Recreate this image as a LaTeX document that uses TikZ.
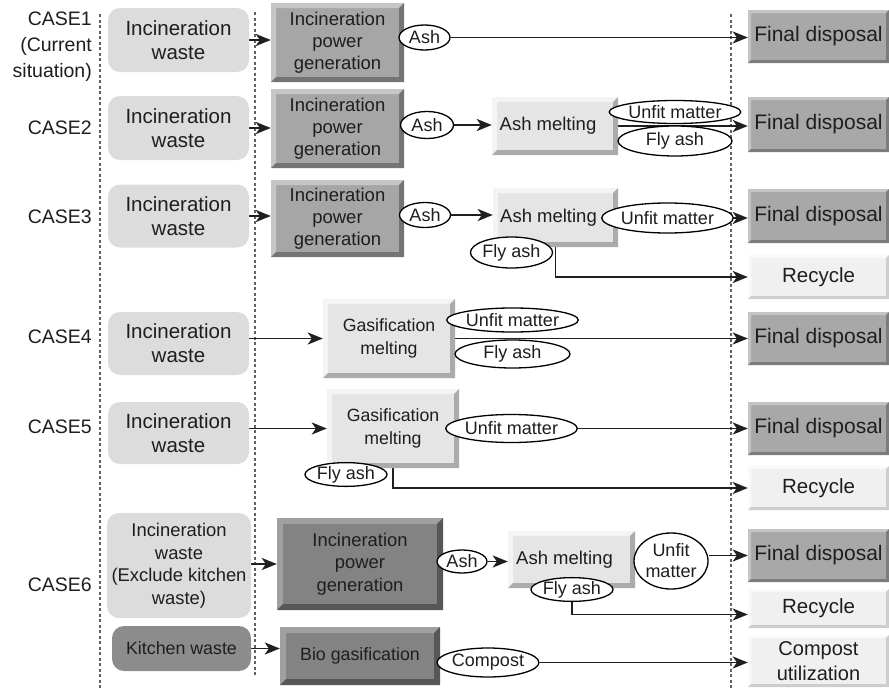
\documentclass[tikz,border=0pt]{standalone}
\usepackage{fontspec}
\setmainfont{Liberation Sans}
\usetikzlibrary{arrows.meta,shapes.geometric}
\pgfdeclarelayer{bg}
\pgfdeclarelayer{lines}
\pgfsetlayers{bg,lines,main}
\definecolor{txt}{HTML}{1E1E1E}
\definecolor{wastec}{HTML}{DCDCDC}
\definecolor{kitc}{HTML}{8C8C8C}
\definecolor{ipgc}{HTML}{A6A6A6}
\definecolor{ipgl}{HTML}{C6C6C6}
\definecolor{ipgk}{HTML}{747474}
\definecolor{ipdc}{HTML}{838383}
\definecolor{ipdl}{HTML}{A0A0A0}
\definecolor{ipdk}{HTML}{575757}
\definecolor{fdc}{HTML}{A8A8A8}
\definecolor{fdl}{HTML}{C4C4C4}
\definecolor{fdk}{HTML}{7C7C7C}
\definecolor{meltc}{HTML}{E5E5E5}
\definecolor{meltl}{HTML}{F4F4F4}
\definecolor{meltk}{HTML}{ABABAB}
\definecolor{recc}{HTML}{F0F0F0}
\definecolor{recl}{HTML}{FAFAFA}
\definecolor{reck}{HTML}{CDCDCD}
\newcommand{\zzcase}{\fontsize{19.5}{26}\selectfont}
\newcommand{\zzwaste}{\fontsize{20.5}{24}\selectfont}
\newcommand{\zzipg}{\fontsize{18.5}{22}\selectfont}
\newcommand{\zzfd}{\fontsize{21}{25}\selectfont}
\newcommand{\zzrec}{\fontsize{20.5}{25}\selectfont}
\newcommand{\zzell}{\fontsize{18}{21}\selectfont}
\newcommand{\zzmelt}{\fontsize{18.5}{22}\selectfont}
\newcommand{\zzgas}{\fontsize{17.7}{22.5}\selectfont}
\newcommand{\zzsix}{\fontsize{18.4}{22.5}\selectfont}
\newcommand{\zzkit}{\fontsize{17.8}{21}\selectfont}
\tikzset{
  bev/.style n args={4}{rectangle, fill=#1, inner sep=0pt, align=center, text=txt,
    path picture={
      \fill[#2] (path picture bounding box.north west) -- (path picture bounding box.north east)
        -- ([shift={(-#4,-#4)}]path picture bounding box.north east)
        -- ([shift={(#4,-#4)}]path picture bounding box.north west)
        -- ([shift={(#4,#4)}]path picture bounding box.south west)
        -- (path picture bounding box.south west) -- cycle;
      \fill[#3] (path picture bounding box.south east) -- (path picture bounding box.north east)
        -- ([shift={(-#4,-#4)}]path picture bounding box.north east)
        -- ([shift={(-#4,#4)}]path picture bounding box.south east)
        -- ([shift={(#4,#4)}]path picture bounding box.south west)
        -- (path picture bounding box.south west) -- cycle;
    }},
  ipgbox/.style={bev={ipgc}{ipgl}{ipgk}{5pt}, font=\zzipg},
  ipgdark/.style={bev={ipdc}{ipdl}{ipdk}{6pt}, font=\zzsix},
  fdbox/.style={bev={fdc}{fdl}{fdk}{3pt}, font=\zzfd, minimum width=141pt},
  meltbox/.style={bev={meltc}{meltl}{meltk}{5pt}},
  recbox/.style={bev={recc}{recl}{reck}{3pt}, font=\zzrec, minimum width=141pt},
  wbox/.style={rectangle, rounded corners=12pt, fill=wastec, inner sep=0pt, align=center, text=txt, font=\zzwaste},
  caselbl/.style={anchor=east, align=right, text=txt, font=\zzcase, inner sep=0pt},
  lab/.style={ellipse, draw=black, line width=1.3pt, fill=white, inner sep=0pt, align=center, text=txt, font=\zzell},
  arr/.style={-{Stealth[length=15pt,width=12pt,inset=4pt]}, line width=1.9pt, draw=black!88},
  divider/.style={draw=black!62, line width=1.2pt, dash pattern=on 3pt off 2.5pt},
}
\begin{document}
\begin{tikzpicture}[x=1pt,y=-1pt]
\useasboundingbox (0,0) rectangle (889,688);
% dividers
\coordinate (d1t) at (100,14); \coordinate (d1b) at (100,688);
\coordinate (d2t) at (255,12); \coordinate (d2b) at (255,675);
\coordinate (d3t) at (731,14); \coordinate (d3b) at (731,688);
\begin{pgfonlayer}{bg}
\draw[divider] (d1t) -- (d1b);
\draw[divider] (d2t) -- (d2b);
\draw[divider] (d3t) -- (d3b);
\end{pgfonlayer}
% CASE 1
\node[caselbl] (c1) at (92,47) {CASE1\\(Current\\situation)};
\node[wbox, minimum width=141pt, minimum height=64pt] (w1) at (178.5,40) {Incineration\\waste};
\node[ipgbox, minimum width=133pt, minimum height=79pt] (ipg1) at (337.5,42.5) {Incineration\\power\\generation};
\node[fdbox, minimum height=53pt] (fd1) at (818.5,36.5) {Final disposal};
\node[lab, minimum width=51pt, minimum height=25pt] (ash1) at (424.5,37.5) {Ash};
% CASE 2
\node[caselbl] (c2) at (92,128) {CASE2};
\node[wbox, minimum width=141pt, minimum height=64pt] (w2) at (178.5,128) {Incineration\\waste};
\node[ipgbox, minimum width=133pt, minimum height=79pt] (ipg2) at (337.5,128.5) {Incineration\\power\\generation};
\node[meltbox, font=\zzmelt, minimum width=126pt, minimum height=58pt] (am2) at (555,126) {Ash melting\hspace*{14pt}};
\node[fdbox, minimum height=55pt] (fd2) at (818.5,124.5) {Final disposal};
\node[lab, minimum width=53pt, minimum height=27pt] (ash2) at (427,125) {Ash};
\node[lab, minimum width=114pt, minimum height=23pt] (unfit2) at (675,112) {Unfit matter};
\node[lab, minimum width=114pt, minimum height=30pt] (fly2) at (675,141) {Fly ash};
% CASE 3
\node[caselbl] (c3) at (92,217) {CASE3};
\node[wbox, minimum width=141pt, minimum height=63pt] (w3) at (178.5,216) {Incineration\\waste};
\node[ipgbox, minimum width=133pt, minimum height=77pt] (ipg3) at (337.5,218.5) {Incineration\\power\\generation};
\node[meltbox, font=\zzmelt, minimum width=125pt, minimum height=59pt] (am3) at (555.5,217.5) {Ash melting\hspace*{14pt}};
\node[fdbox, minimum height=54pt] (fd3) at (818.5,216) {Final disposal};
\node[recbox, minimum height=44pt] (rec3) at (818.5,277) {Recycle};
\node[lab, minimum width=51pt, minimum height=25pt] (ash3) at (425,215) {Ash};
\node[lab, minimum width=99pt, minimum height=30pt] (unfit3) at (667.5,218) {Unfit matter};
\node[lab, minimum width=77pt, minimum height=31pt] (fly3) at (511.5,252.5) {Fly ash};
% CASE 4
\node[caselbl] (c4) at (92,337) {CASE4};
\node[wbox, minimum width=141pt, minimum height=63pt] (w4) at (178.5,343.5) {Incineration\\waste};
\node[meltbox, font=\zzgas, minimum width=132pt, minimum height=79pt] (gm4) at (389,338.5) {Gasification\\melting};
\node[fdbox, minimum height=53pt] (fd4) at (818.5,338.5) {Final disposal};
\node[lab, minimum width=115pt, minimum height=24pt] (unfit4) at (512.5,320) {Unfit matter};
\node[lab, minimum width=115pt, minimum height=28pt] (fly4) at (512.5,354) {Fly ash};
% CASE 5
\node[caselbl] (c5) at (92,427) {CASE5};
\node[wbox, minimum width=141pt, minimum height=62pt] (w5) at (178.5,433) {Incineration\\waste};
\node[meltbox, font=\zzgas, minimum width=132pt, minimum height=79pt] (gm5) at (393,428.5) {Gasification\\melting};
\node[fdbox, minimum height=53pt] (fd5) at (818.5,428.5) {Final disposal};
\node[recbox, minimum height=44pt] (rec5) at (818.5,488) {Recycle};
\node[lab, minimum width=113pt, minimum height=28pt] (unfit5) at (511.5,428.5) {Unfit matter};
\node[lab, minimum width=82pt, minimum height=23pt] (fly5) at (346,474.5) {Fly ash};
% CASE 6
\node[caselbl] (c6) at (92,585) {CASE6};
\node[wbox, font=\zzsix, minimum width=144pt, minimum height=105pt] (w6) at (179,565.5) {Incineration\\waste\\(Exclude kitchen\\waste)};
\node[wbox, fill=kitc, font=\zzkit, minimum width=139pt, minimum height=45pt] (kw) at (181.5,648.5) {Kitchen waste};
\node[ipgdark, minimum width=166pt, minimum height=92pt] (ipg6) at (360,564) {Incineration\\power\\generation};
\node[bev={ipdc}{ipdl}{ipdk}{6pt}, font=\zzkit, minimum width=160pt, minimum height=58pt] (bio) at (360,656) {Bio gasification};
\node[meltbox, font=\zzmelt, minimum width=127pt, minimum height=57pt] (am6) at (571.5,559.5) {Ash melting\hspace*{14pt}};
\node[fdbox, minimum height=53pt] (fd6) at (818.5,555.5) {Final disposal};
\node[recbox, minimum height=39pt] (rec6) at (818.5,608.5) {Recycle};
\node[recbox, font=\fontsize{20}{25}\selectfont, minimum height=52pt] (cu) at (818.5,661) {Compost\\utilization};
\node[lab, minimum width=50pt, minimum height=23pt] (ash6) at (462,561.5) {Ash};
\node[lab, minimum width=74pt, minimum height=56pt] (unfit6) at (671,561) {Unfit\\matter};
\node[lab, minimum width=80pt, minimum height=20pt] (fly6) at (572,589.5) {Fly ash};
\node[lab, minimum width=98pt, minimum height=29pt] (comp) at (488,662.5) {Compost};
% connectors
\begin{pgfonlayer}{lines}
\draw[arr] (w1.east) -- (w1.east -| ipg1.west);
\draw[arr] (ash1.east) -- (ash1.east -| fd1.west);
\draw[arr] (w2.east) -- (w2.east -| ipg2.west);
\draw[arr] (ash2.east) -- (ash2.east -| am2.west);
\draw[arr] (am2.east) -- (am2.east -| fd2.west);
\draw[arr] (w3.east) -- (w3.east -| ipg3.west);
\draw[arr] (ash3.east) -- (ash3.east -| am3.west);
\draw[arr] (unfit3.east) -- (unfit3.east -| fd3.west);
\draw[arr] (am3.south) |- (rec3.west);
\draw[arr] (gm4.west -| w4.east) -- (gm4.west);
\draw[arr] (gm4.east) -- (gm4.east -| fd4.west);
\draw[arr] (gm5.west -| w5.east) -- (gm5.west);
\draw[arr] (gm5.east) -- (gm5.east -| fd5.west);
\draw[arr] (gm5.south) |- (rec5.west);
\draw[arr] (ipg6.west -| w6.east) -- (ipg6.west);
\draw[arr] (kw.east) -- (kw.east -| bio.west);
\draw[arr] (ash6.east) -- (ash6.east -| am6.west);
\draw[arr] (fd6.west -| unfit6.east) -- (fd6.west);
\draw[arr] (fly6.south) |- ([yshift=-6pt]rec6.west);
\draw[arr] (comp.east) -- (comp.east -| cu.west);
\end{pgfonlayer}
\end{tikzpicture}
\end{document}
